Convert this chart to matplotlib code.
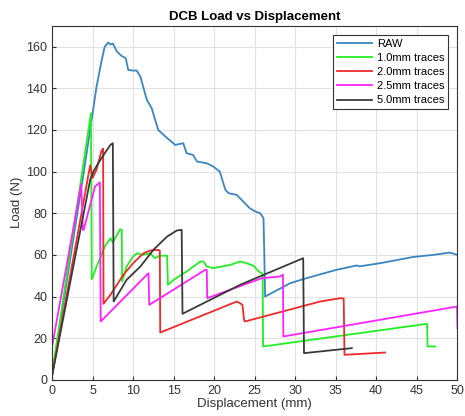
import matplotlib.pyplot as plt
import numpy as np

plt.rcParams['font.family'] = ['Liberation Sans', 'DejaVu Sans']

# raw load-displacement curve
raw_x = [0, 2, 4, 5, 5.5, 6.1, 6.5, 6.95, 7.2, 7.5, 8.0, 8.6, 9.1, 9.4, 10.0, 10.45,
         10.9, 11.7, 12.3, 13.1, 14.0, 15.2, 16.2, 16.6, 17.4, 17.9, 19.1, 19.9, 20.7,
         21.4, 21.8, 22.8, 23.6, 24.2, 24.4, 25.1, 25.7, 26.1, 26.2, 26.3, 29.4, 31.4,
         35.1, 37.6, 38.0, 40.5, 44.6, 47.1, 49.1, 50]
raw_y = [2, 52, 102, 128, 141, 153, 160, 162, 161, 161.5, 157.6, 155.5, 154.4, 148.8,
         148.5, 148.5, 145.6, 134.4, 130.4, 120, 116.8, 112.8, 113.6, 108.8, 108, 104.8,
         104, 102.4, 100, 91.2, 89.6, 88.8, 85.6, 83.2, 82.4, 80.8, 80, 77.6, 60, 40,
         46.4, 48.8, 52.8, 54.9, 54.5, 56, 59, 60, 61.1, 60]

# traced curves
t10_x = [0, 4.8, 4.9, 5.5, 6.5, 7.2, 7.5, 8.4, 8.6, 8.65, 9.2, 10.0, 10.5, 11.2, 12.1,
         12.7, 13.3, 14.2, 14.3, 15.0, 16.6, 18.3, 18.7, 19.1, 19.9, 22.0, 23.2, 24.0,
         24.9, 25.5, 25.9, 26.0, 26.05, 46.3, 46.35, 47.3]
t10_y = [3, 128, 48.3, 54.4, 64, 68, 66, 72.3, 72, 47.2, 54.4, 59.2, 60.8, 60, 60.8,
         58.4, 59.6, 59.6, 45.6, 48, 52, 56.8, 56.8, 54.4, 53.6, 55.2, 56.8, 56, 54.7,
         52, 51.2, 50, 16, 26.9, 16, 16]

t20_x = [0, 4.7, 5.0, 5.5, 6.1, 6.3, 6.35, 7.2, 8.8, 10.0, 11.3, 12.1, 13.1, 13.3,
         13.35, 22.8, 23.2, 23.5, 23.7, 23.8, 33.1, 35.6, 36.0, 36.1, 41.1]
t20_y = [2, 103, 97, 101, 110, 111, 36.5, 40.8, 50.4, 56, 60.8, 62.1, 62.4, 62, 22.7,
         37.6, 36.8, 36, 28.8, 28, 37.6, 39.2, 39, 12, 13.1]

t25_x = [0, 3.6, 3.8, 3.9, 5.3, 5.9, 6.0, 11.9, 12.0, 18.9, 19.1, 19.15, 25.9, 28.1,
         28.5, 28.55, 50, 50.05]
t25_y = [16, 94, 72, 72, 92.8, 94.8, 28, 51.2, 36, 52.8, 52.8, 39.2, 48.8, 49.6, 50.5,
         20.8, 35.2, 24.8]

t50_x = [0, 4.7, 5.1, 5.7, 6.5, 7.2, 7.5, 7.6, 9.2, 10.9, 12.5, 14.2, 15.4, 16.0, 16.1,
         23.2, 31.0, 31.1, 37.0]
t50_y = [2, 96, 100, 104, 108.8, 112.8, 113.6, 37.6, 48, 54.4, 62.4, 68.8, 71.7, 72,
         31.7, 45.6, 58.4, 12.8, 15.2]

fig = plt.figure(figsize=(4.65, 4.16), dpi=100)
ax = fig.add_axes([0.112, 0.087, 0.871, 0.851])

lw = 1.3
ax.plot(raw_x, raw_y, color='#3a86c0', lw=lw, label='RAW')
ax.plot(t10_x, t10_y, color='#22ee22', lw=lw, label='1.0mm traces')
ax.plot(t20_x, t20_y, color='#ee2a2a', lw=lw, label='2.0mm traces')
ax.plot(t25_x, t25_y, color='#ff22ff', lw=lw, label='2.5mm traces')
ax.plot(t50_x, t50_y, color='#3a3a3a', lw=lw, label='5.0mm traces')

ax.set_xlim(0, 50)
ax.set_ylim(0, 170)
ax.set_xticks(np.arange(0, 51, 5))
ax.set_yticks(np.arange(0, 161, 20))
ax.grid(True, color='#e2e2e2', lw=0.8)
ax.set_axisbelow(True)
ax.tick_params(direction='in', labelsize=9, colors='#333333', length=3)
for s in ax.spines.values():
    s.set_color('#333333')
    s.set_linewidth(0.8)

ax.set_title('DCB Load vs Displacement', fontsize=9.5, fontweight='bold', pad=4)
ax.set_xlabel('Displacement (mm)', fontsize=9.5, color='#333333', labelpad=1)
ax.set_ylabel('Load (N)', fontsize=9.5, color='#333333', labelpad=2)

leg = ax.legend(loc='upper right', fontsize=8, handlelength=3.2, fancybox=False,
                framealpha=1, edgecolor='#333333', borderpad=0.35, labelspacing=0.38,
                handletextpad=0.4, borderaxespad=0.8)
leg.get_frame().set_linewidth(0.8)

fig.savefig('out.png', dpi=100)
